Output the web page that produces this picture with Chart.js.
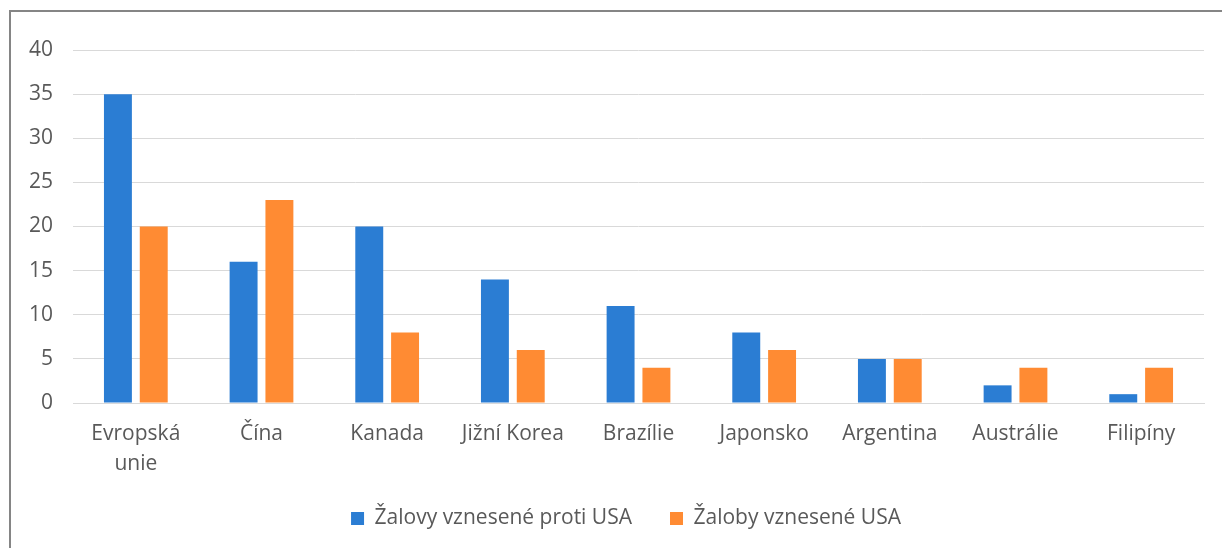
<!DOCTYPE html>
<html><head><meta charset="utf-8">
<script src="https://cdn.jsdelivr.net/npm/chart.js@4"></script>
<style>
html,body{margin:0;padding:0;background:#fff;width:1222px;height:548px;overflow:hidden}
#wrap{position:absolute;left:0;top:0;width:1222px;height:548px}
#frame{position:absolute;left:9px;top:10px;width:1300px;height:600px;border-left:2px solid #858585;border-top:2px solid #858585;box-sizing:border-box;pointer-events:none}
</style></head>
<body>
<div id="wrap"><canvas id="c" width="1222" height="548"></canvas></div>
<div id="frame"></div>
<script>
const categories = [['Evropská','unie'],'Čína','Kanada','Jižní Korea','Brazílie','Japonsko','Argentina','Austrálie','Filipíny'];
const seriesNames = ['Žalovy vznesené proti USA','Žaloby vznesené USA'];
const againstUSA = [35,16,20,14,11,8,5,2,1];
const byUSA = [20,23,8,6,4,6,5,4,4];
const yTicks = [0,5,10,15,20,25,30,35,40];

const FONT = "'Open Sans', 'Noto Sans', sans-serif";

const adjust = {
  id: 'adjust',
  afterLayout(chart) {
    const x = chart.scales.x;
    x.bottom = x.top + 90;
    x.height = 90;
    const lg = chart.legend;
    lg.top += 3; lg.bottom += 3;
    lg.left += 19; lg.right += 19;
  }
};

new Chart(document.getElementById('c'), {
  type: 'bar',
  data: {
    labels: categories,
    datasets: [
      {label: seriesNames[0], data: againstUSA, backgroundColor: '#2b7dd3', barPercentage: 0.78, categoryPercentage: 0.57},
      {label: seriesNames[1], data: byUSA, backgroundColor: '#ff8b33', barPercentage: 0.78, categoryPercentage: 0.57}
    ]
  },
  plugins: [adjust],
  options: {
    responsive: false,
    animation: false,
    layout: {padding: {left: 10, right: 18, top: 50, bottom: 12}},
    plugins: {
      tooltip: {enabled: false},
      legend: {
        position: 'bottom',
        labels: {
          boxWidth: 13, boxHeight: 13, padding: 38,
          color: '#595959',
          font: {family: FONT, size: 21}
        }
      }
    },
    scales: {
      x: {
        grid: {display: false, drawTicks: false},
        border: {display: true, color: '#d9d9d9', width: 1},
        ticks: {color: '#595959', font: {family: FONT, size: 21, lineHeight: 1.43}, padding: 16, maxRotation: 0, autoSkip: false},
        afterFit: s => { s.height = 64; }
      },
      y: {
        min: 0, max: 40,
        afterBuildTicks: s => { s.ticks = yTicks.map(v => ({value: v})); },
        grid: {color: '#d9d9d9', drawTicks: false},
        border: {display: false},
        ticks: {color: '#595959', font: {family: FONT, size: 21}, padding: 20},
        afterFit: s => { s.width = 63; }
      }
    }
  }
});
</script>
</body></html>
